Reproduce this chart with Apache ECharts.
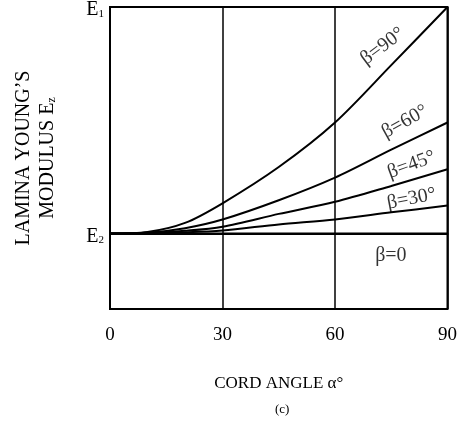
<!DOCTYPE html>
<html lang="en">
<head>
	<meta charset="UTF-8">
	<title>Lamina Young's modulus vs cord angle</title>
	<script src="https://cdn.jsdelivr.net/npm/echarts@6/dist/echarts.min.js"></script>
	<style>
		html, body { margin: 0; padding: 0; background: #fff; }
		#chart { width: 460px; height: 424px; }
	</style>
</head>
<body>
	<div id="chart"></div>
	<script>
		// cord angle alpha (deg)
		var alpha = [0, 10, 20, 30, 45, 60, 75, 90];
		// Ez above E2, in units where E1 - E2 = 3
		var beta90 = [0, 0.02, 0.14, 0.40, 0.88, 1.47, 2.23, 3.00];
		var beta60 = [0, 0.01, 0.07, 0.185, 0.44, 0.74, 1.11, 1.47];
		var beta45 = [0, 0.005, 0.035, 0.09, 0.26, 0.42, 0.63, 0.85];
		var beta30 = [0, 0.003, 0.015, 0.04, 0.12, 0.185, 0.28, 0.37];
		var beta0 = [0, 0, 0, 0, 0, 0, 0, 0];
		var xTicks = [0, 30, 60, 90];

		// curve labels: text, anchor [alpha, value], rotation
		var labelText = ['\u03b2=90\u00b0', '\u03b2=60\u00b0', '\u03b2=45\u00b0', '\u03b2=30\u00b0', '\u03b2=0'];
		var labelAt = [[72.7, 2.48], [78.6, 1.48], [80.4, 0.91], [80.4, 0.46], [74.9, -0.30]];
		var labelRot = [37, 29, 20, 11, 0];

		var serif = '"Liberation Serif", "DejaVu Serif", serif';

		function pairs(ys) {
			return alpha.map(function (a, i) { return [a, ys[i]]; });
		}

		function curve(name, ys) {
			return {
				name: name,
				type: 'line',
				data: pairs(ys),
				smooth: 0.3,
				symbol: 'none',
				lineStyle: { color: '#000', width: 2 },
				z: 3
			};
		}

		var myChart = echarts.init(document.getElementById('chart'));
		var option = {
			animation: false,
			backgroundColor: '#fff',
			title: {
				text: '(c)',
				left: 270,
				top: 398,
				textStyle: { fontFamily: serif, fontSize: 13, fontWeight: 'normal', color: '#000' }
			},
			grid: {
				left: 110, right: 10, top: 7, bottom: 115,
				show: true,
				borderColor: '#000',
				borderWidth: 2,
				backgroundColor: 'transparent'
			},
			xAxis: {
				type: 'value',
				min: 0, max: 90, interval: 30,
				name: 'CORD ANGLE \u03b1\u00b0',
				nameLocation: 'middle',
				nameGap: 66,
				nameTextStyle: { fontFamily: serif, fontSize: 17, color: '#000' },
				axisLine: { show: true, lineStyle: { color: '#000', width: 2 } },
				axisTick: { show: false },
				axisLabel: {
					margin: 17,
					fontFamily: serif, fontSize: 19, color: '#000',
					showMinLabel: true, showMaxLabel: true,
					formatter: function (v) { return xTicks.indexOf(v) >= 0 ? String(v) : ''; }
				},
				splitLine: { show: true, lineStyle: { color: '#000', width: 1.5 } }
			},
			yAxis: {
				type: 'value',
				min: -1, max: 3, interval: 1,
				name: "{a|LAMINA YOUNG\u2019S}\n{a|MODULUS E}{z|z}",
				nameLocation: 'middle',
				nameRotate: 90,
				nameGap: 50,
				nameTextStyle: {
					rich: {
						a: { fontFamily: serif, fontSize: 20, color: '#000', lineHeight: 24 },
						z: { fontFamily: serif, fontSize: 12, color: '#000', padding: [8, 0, 0, 0], lineHeight: 24 }
					}
				},
				axisLine: { show: true, lineStyle: { color: '#000', width: 2 } },
				axisTick: { show: false },
				splitLine: { show: false },
				axisLabel: {
					margin: 6,
					showMinLabel: true, showMaxLabel: true,
					formatter: function (v) {
						if (v === 3) return '{e|E}{s|1}';
						if (v === 0) return '{e|E}{s|2}';
						return '';
					},
					rich: {
						e: { fontFamily: serif, fontSize: 20, color: '#000', padding: [6, 0, 0, 0] },
						s: { fontFamily: serif, fontSize: 11, color: '#000', padding: [14, 0, 0, 0] }
					}
				}
			},
			series: [
				curve('beta0', beta0),
				curve('beta30', beta30),
				curve('beta45', beta45),
				curve('beta60', beta60),
				curve('beta90', beta90),
				{
					name: 'labels',
					type: 'scatter',
					symbolSize: 0,
					silent: true,
					z: 4,
					data: labelAt.map(function (p, i) {
						return {
							value: p,
							label: {
								show: true,
								position: 'inside',
								formatter: labelText[i],
								rotate: labelRot[i],
								fontFamily: serif,
								fontSize: 20,
								color: '#000'
							}
						};
					})
				}
			]
		};
		myChart.setOption(option);
	</script>
</body>
</html>
